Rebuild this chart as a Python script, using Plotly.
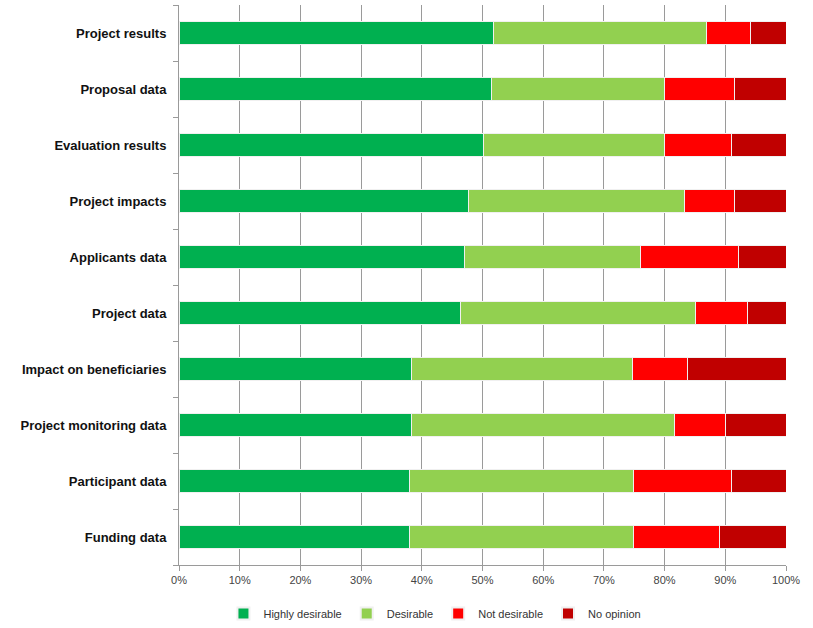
import plotly.graph_objects as go

categories = ["Project results", "Proposal data", "Evaluation results", "Project impacts",
              "Applicants data", "Project data", "Impact on beneficiaries",
              "Project monitoring data", "Participant data", "Funding data"]
highly_desirable = [51.8, 51.5, 50.2, 47.7, 47.1, 46.4, 38.3, 38.3, 38.0, 38.0]
desirable = [35.1, 28.5, 29.8, 35.6, 28.9, 38.7, 36.4, 43.4, 36.9, 36.9]
not_desirable = [7.2, 11.5, 11.0, 8.2, 16.1, 8.5, 9.1, 8.4, 16.1, 14.1]
no_opinion = [5.9, 8.5, 9.0, 8.5, 7.9, 6.4, 16.2, 9.9, 9.0, 11.0]

series = [
    ("Highly desirable", highly_desirable, "#00B050"),
    ("Desirable", desirable, "#92D050"),
    ("Not desirable", not_desirable, "#FF0000"),
    ("No opinion", no_opinion, "#C00000"),
]

fig = go.Figure()
for name, vals, color in series:
    fig.add_trace(go.Bar(
        y=categories, x=vals, name=name, orientation="h",
        marker=dict(color=color, line=dict(color="#f0f0f0", width=1)),
    ))

fig.update_layout(
    barmode="stack",
    bargap=0.58,
    width=813, height=628,
    margin=dict(l=179, r=27, t=5, b=63),
    plot_bgcolor="white", paper_bgcolor="white",
    font=dict(family="Liberation Sans, Arial, sans-serif", color="#333"),
    legend=dict(orientation="h", x=0.535, xref="container", xanchor="center",
                y=-0.005, yref="container", yanchor="bottom",
                font=dict(size=11, color="#333"), traceorder="normal",
                itemwidth=30, itemsizing="constant", tracegroupgap=0),
    showlegend=True,
)
fig.update_xaxes(
    range=[0, 100], dtick=10, ticksuffix="%",
    showgrid=True, gridcolor="#9a9a9a", gridwidth=1,
    showline=True, linecolor="#9a9a9a", linewidth=1,
    ticks="outside", ticklen=5, tickcolor="#9a9a9a",
    tickfont=dict(size=11, color="#444"), zeroline=False,
)
fig.update_yaxes(
    categoryorder="array", categoryarray=categories, autorange="reversed",
    showline=True, linecolor="#9a9a9a", linewidth=1,
    ticks="outside", ticklen=5, tickcolor="#9a9a9a", tickson="boundaries",
    tickfont=dict(size=13, color="#111", family="Liberation Sans, Arial, sans-serif"),
    ticklabelstandoff=9,
)
# bold tick labels
fig.update_yaxes(ticktext=[f"<b>{c}</b>" for c in categories], tickvals=categories)

fig.write_html("out.html")
